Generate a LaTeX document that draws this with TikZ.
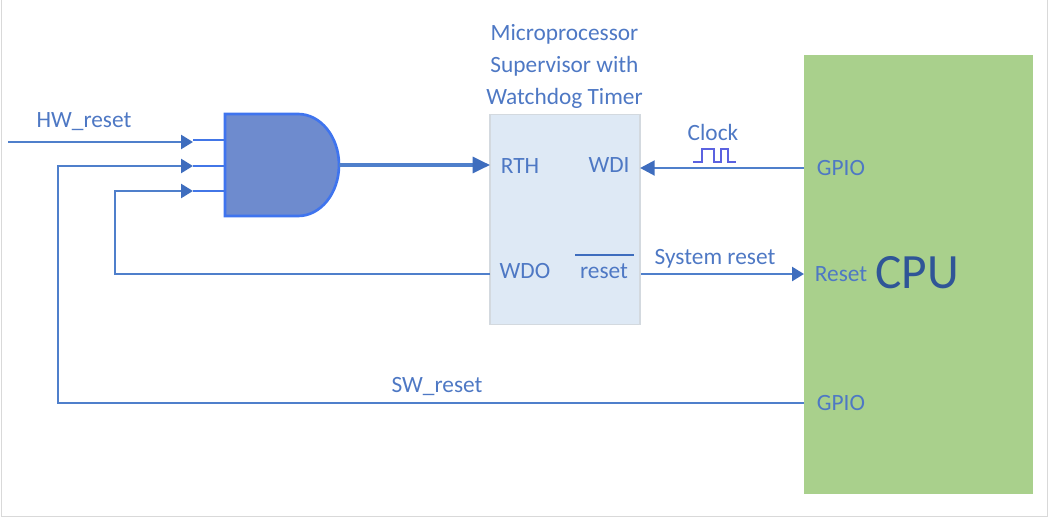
\documentclass[tikz,border=0pt]{standalone}
\usepackage{fontspec}
\setmainfont{Carlito}
\usetikzlibrary{arrows.meta}
\definecolor{wire}{HTML}{4F7FCB}
\definecolor{tipc}{HTML}{3E6DBE}
\definecolor{txt}{HTML}{4E78C4}
\definecolor{chipfill}{HTML}{DEE9F5}
\definecolor{chipedge}{HTML}{D3D9DF}
\definecolor{cpufill}{HTML}{A9D08C}
\definecolor{gatefill}{HTML}{6E8BCE}
\definecolor{gateedge}{HTML}{3F74EE}
\definecolor{cpuText}{HTML}{2F5597}
\definecolor{framec}{HTML}{D9D9D9}
\definecolor{pulsec}{HTML}{5B62E0}
\tikzset{
  wireline/.style={draw=wire,line width=1.9pt},
  arrowline/.style={wireline,-{Triangle[length=9pt,width=10.5pt,color=tipc]}},
  lbl/.style={text=txt,font=\fontsize{17.5pt}{20pt}\selectfont,inner sep=0pt,anchor=center},
  pin/.style={lbl},
  stub/.style={draw=gateedge!80!wire,line width=1.9pt},
}
\begin{document}
\begin{tikzpicture}[x=0.75pt,y=-0.75pt]
\useasboundingbox (0,0) rectangle (1050,518);
\draw[framec,line width=1pt] (1.5,-3) -- (1.5,516.5) -- (1047.5,516.5) -- (1047.5,-3);
% blocks
\node[draw=chipedge,fill=chipfill,line width=1pt,minimum width=112.5pt,minimum height=157.5pt,inner sep=0pt] (chip) at (565,219.5) {};
\node[fill=cpufill,minimum width=171.75pt,minimum height=329.25pt,inner sep=0pt] (cpu) at (918,274) {};
% gate
\path[draw=gateedge,fill=gatefill,line width=2pt] (225,114) -- (298,114) arc[start angle=-90,end angle=90,x radius=41,y radius=51] -- (225,216) -- cycle;
\coordinate (gin1) at (225,140);
\coordinate (gin2) at (225,166);
\coordinate (gin3) at (225,191);
\coordinate (gout) at (339,165);
\coordinate (a1) at (193,142);
\coordinate (a2) at (193,166);
\coordinate (a3) at (193,191);
\coordinate (s1) at (193,140);
\coordinate (hwstart) at (8,142);
\coordinate (rth) at (490,165);
\coordinate (wdi) at (640,168);
\coordinate (cgpio) at (804,168);
\coordinate (wdo) at (490,274);
\coordinate (rst) at (641,274);
\coordinate (creset) at (804,274);
\coordinate (sw) at (804,403);
\coordinate (swc) at (58,403);
\coordinate (swu) at (58,166);
\coordinate (wc) at (115,274);
\coordinate (wu) at (115,191);
% stubs
\draw[stub] (s1) -- (gin1);
\draw[stub] (a2) -- (gin2);
\draw[stub] (a3) -- (gin3);
% connectors
\draw[arrowline] (hwstart) -- (a1);
\draw[arrowline] (sw) -- (swc) -- (swu) -- (a2);
\draw[arrowline] (wdo) -- (wc) -- (wu) -- (a3);
\draw[wireline,line width=2.3pt,-{Triangle[length=13pt,width=12pt,color=tipc]}] (gout) -- (rth);
\draw[wireline,line width=2.2pt,-{Triangle[length=11pt,width=11pt,color=tipc]}] (cgpio) -- (wdi);
\draw[arrowline] (rst) -- (creset);
% labels
\node[lbl] (ttl) at (564.5,67) {\begin{tabular}{@{}c@{}}Microprocessor\\[4pt]Supervisor with\\[4pt]Watchdog Timer\end{tabular}};
\node[lbl] (hw) at (84,121.5) {HW\_reset};
\node[lbl] (swl) at (437,386) {SW\_reset};
\node[lbl] (clk) at (713,132) {Clock};
\node[lbl] (sys) at (715,258.5) {System reset};
\node[pin] (lrth) at (520,166) {RTH};
\node[pin] (lwdi) at (609,165) {WDI};
\node[pin] (lwdo) at (525,271) {WDO};
\node[pin] (lrst) at (604,271) {reset};
\coordinate (ovl) at (575,255);
\coordinate (ovr) at (634,255);
\draw[tipc,line width=1.8pt] (ovl) -- (ovr);
\node[pin] (g1) at (841,168) {GPIO};
\node[pin] (g2) at (841,274) {Reset};
\node[pin] (g3) at (841,403) {GPIO};
\node[text=cpuText,font=\fontsize{37pt}{40pt}\selectfont,inner sep=0pt] (cpul) at (917,273) {CPU};
% clock pulse
\draw[draw=pulsec,line width=1.3pt] (693,162) -- (702,162) -- (702,149) -- (714,149) -- (714,162) -- (721,162) -- (721,149) -- (728,149) -- (728,162) -- (736,162);
\end{tikzpicture}
\end{document}
